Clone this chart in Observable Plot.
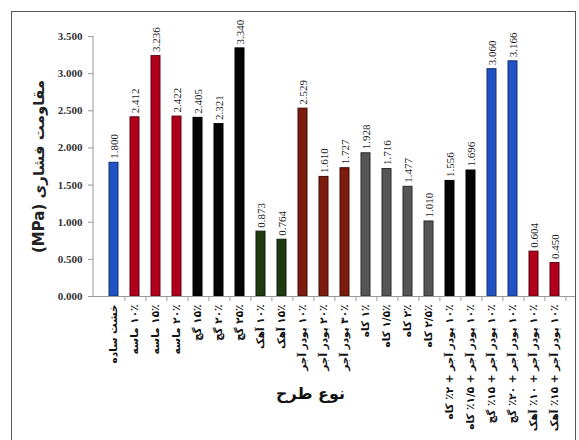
<!DOCTYPE html>
<html><head><meta charset="utf-8">
<script src="https://cdn.jsdelivr.net/npm/d3@7"></script>
<script src="https://cdn.jsdelivr.net/npm/@observablehq/plot@0.6"></script>
<style>
body{margin:0;background:#fff}
#wrap{position:relative;width:579px;height:440px;overflow:hidden}
#border{position:absolute;left:11px;top:11px;width:563px;height:440px;border:1px solid #555;pointer-events:none}
svg{position:absolute;left:0;top:0}
</style>
</head><body>
<div id="wrap"><div id="border"></div></div>
<script>
const labels = [
  "خشت ساده",
  "۱۰٪ ماسه", "۱۵٪ ماسه", "۲۰٪ ماسه",
  "۱۵٪ گچ", "۲۰٪ گچ", "۲۵٪ گچ",
  "۱۰٪ آهک", "۱۵٪ آهک",
  "۱۰٪ پودر آجر", "۲۰٪ پودر آجر", "۳۰٪ پودر آجر",
  "۱٪ کاه", "۱/۵٪ کاه", "۲٪ کاه", "۲/۵٪ کاه",
  "۱۰٪ پودر آجر + ۲٪ کاه", "۱۰٪ پودر آجر + ۱/۵٪ کاه",
  "۱۰٪ پودر آجر + ۱۵٪ گچ", "۱۰٪ پودر آجر + ۲۰٪ گچ",
  "۱۰٪ پودر آجر + ۱۰٪ آهک", "۱۰٪ پودر آجر + ۱۵٪ آهک"
];
const values = [1.800, 2.412, 3.236, 2.422, 2.405, 2.321, 3.340, 0.873, 0.764, 2.529, 1.610, 1.727,
  1.928, 1.716, 1.477, 1.010, 1.556, 1.696, 3.060, 3.166, 0.604, 0.450];
const groups = ["blue","red","red","red","black","black","black","green","green","brown","brown","brown",
  "grey","grey","grey","grey","black","black","blue","blue","red","red"];
const colorOf = {blue:"#2152c4", red:"#b0001a", black:"#050505", green:"#1f3b10", brown:"#7d1c0e", grey:"#555555"};
const strokeOf = {blue:"#14306e", red:"#5a0010", black:"#000000", green:"#0e1d07", brown:"#3d0e06", grey:"#2b2b2b"};
const yTicks = [0, 0.5, 1.0, 1.5, 2.0, 2.5, 3.0, 3.5];
const yTitle = "مقاومت فشاری (MPa)";
const xTitle = "نوع طرح";

const rtl = s => "\u202B" + s + "\u202C";
const data = labels.map((l, i) => ({label: l, value: values[i], group: groups[i]}));
const serif = "'Liberation Serif', 'DejaVu Serif', serif";
const persian = "'DejaVu Sans', 'Noto Sans', sans-serif";

const chart = Plot.plot({
  width: 579,
  height: 440,
  marginLeft: 93,
  marginRight: 4,
  marginTop: 36,
  marginBottom: 144,
  style: {background: "transparent", overflow: "visible"},
  x: {domain: labels, paddingInner: 0.55, paddingOuter: 0.35},
  y: {domain: [0, 3.5]},
  marks: [
    Plot.barY(data, {x: "label", y: "value", fill: d => colorOf[d.group], stroke: d => strokeOf[d.group], strokeWidth: 1}),
    Plot.text(data, {x: "label", y: "value", text: d => d.value.toFixed(3), rotate: -90, textAnchor: "start", dy: -4,
      fontSize: 11, fontFamily: serif, fill: "#1a1a1a"}),
    Plot.ruleY([0], {stroke: "#999", strokeWidth: 1}),
    Plot.axisY({ticks: yTicks, tickFormat: d3.format(".3f"), tickSize: 5, tickPadding: 6, stroke: "#999",
      fontSize: 11, fontWeight: "bold", fontFamily: serif, fill: "#333",
      label: rtl(yTitle), labelAnchor: "center", labelOffset: 60, labelArrow: "none"}),
    Plot.axisX({tickSize: 0, tickRotate: -90, tickPadding: 8, tickFormat: rtl, fontSize: 10.5, fontWeight: "bold", fontFamily: persian, fill: "#111", label: null}),
    Plot.axisX({tickSize: 5, tickFormat: () => "", dx: 10.9, stroke: "#999", label: null}),
    Plot.text([rtl(xTitle)], {frameAnchor: "bottom", dy: 102, dx: -24, fontSize: 16, fontWeight: "bold", fontFamily: persian, fill: "#111"})
  ]
});
document.getElementById("wrap").appendChild(chart);

// y-axis line drawn from scales
const xs = chart.scale("x"), ys = chart.scale("y");
const svg = d3.select(chart);
svg.append("line")
  .attr("x1", xs.range[0]).attr("x2", xs.range[0])
  .attr("y1", ys.range[0]).attr("y2", ys.range[1])
  .attr("stroke", "#999");
svg.selectAll("g[aria-label='y-axis label']")
  .attr("font-size", 15).attr("font-weight", "bold").attr("font-family", persian).attr("fill", "#222");
</script>
</body></html>
